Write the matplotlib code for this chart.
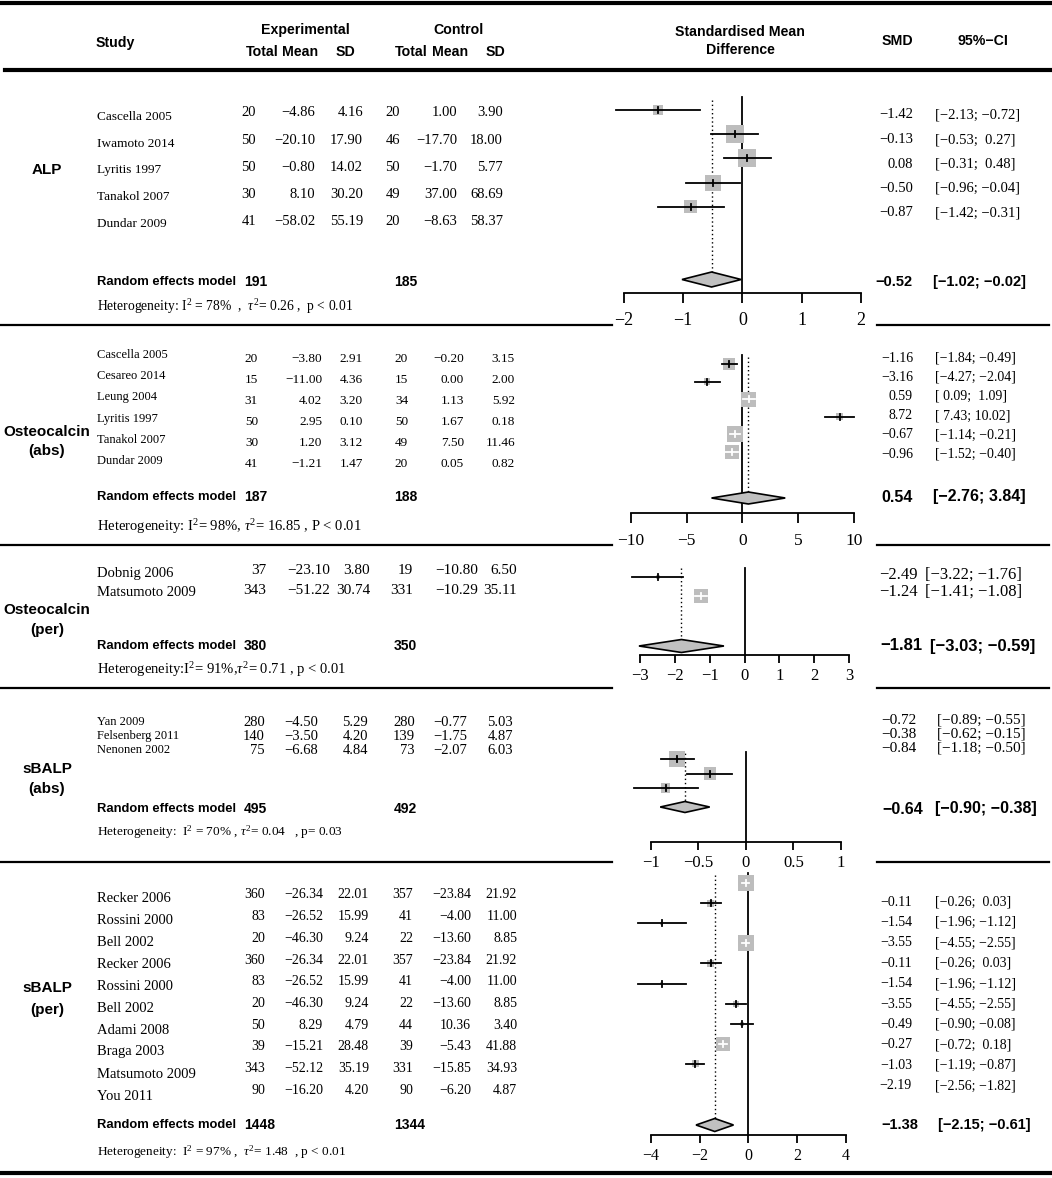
import numpy as np
import matplotlib
matplotlib.use("Agg")
import matplotlib.pyplot as plt
from matplotlib.patches import Rectangle, Polygon

plt.rcParams['mathtext.fontset'] = 'custom'
plt.rcParams['mathtext.rm'] = 'Liberation Serif'
plt.rcParams['mathtext.it'] = 'Liberation Serif:italic'

SERIF = 'Liberation Serif'
SANS = 'Liberation Sans'
W, H = 1052, 1178

# ---------------- data ----------------
alp_study = ["Cascella 2005", "Iwamoto 2014", "Lyritis 1997", "Tanakol 2007", "Dundar 2009"]
alp_e_n = [20, 50, 50, 30, 41]
alp_e_mean = [-4.86, -20.10, -0.80, 8.10, -58.02]
alp_e_sd = [4.16, 17.90, 14.02, 30.20, 55.19]
alp_c_n = [20, 46, 50, 49, 20]
alp_c_mean = [1.00, -17.70, -1.70, 37.00, -8.63]
alp_c_sd = [3.90, 18.00, 5.77, 68.69, 58.37]
alp_smd = [-1.42, -0.13, 0.08, -0.50, -0.87]
alp_lo = [-2.13, -0.53, -0.31, -0.96, -1.42]
alp_hi = [-0.72, 0.27, 0.48, -0.04, -0.31]
alp_w = [8.5, 27.6, 27.6, 21.8, 14.4]
alp_pool = [-0.52, -1.02, -0.02]
alp_tot = [191, 185]
alp_het = r"Heterogeneity: $\mathrm{I}^{2}$ = 78%  ,  $\tau^{2}$= 0.26 ,  p < 0.01"

oab_study = ["Cascella 2005", "Cesareo 2014", "Leung 2004", "Lyritis 1997", "Tanakol 2007", "Dundar 2009"]
oab_e_n = [20, 15, 31, 50, 30, 41]
oab_e_mean = [-3.80, -11.00, 4.02, 2.95, 1.20, -1.21]
oab_e_sd = [2.91, 4.36, 3.20, 0.10, 3.12, 1.47]
oab_c_n = [20, 15, 34, 50, 49, 20]
oab_c_mean = [-0.20, 0.00, 1.13, 1.67, 7.50, 0.05]
oab_c_sd = [3.15, 2.00, 5.92, 0.18, 11.46, 0.82]
oab_smd = [-1.16, -3.16, 0.59, 8.72, -0.67, -0.96]
oab_lo = [-1.84, -4.27, 0.09, 7.43, -1.14, -1.52]
oab_hi = [-0.49, -2.04, 1.09, 10.02, -0.21, -0.40]
oab_w = [16, 5, 25, 5, 28, 21]
oab_pool = [0.54, -2.76, 3.84]
oab_tot = [187, 188]
oab_het = r"Heterogeneity: $\mathrm{I}^{2}$= 98%, $\tau^{2}$= 16.85 , P < 0.01"

ope_study = ["Dobnig 2006", "Matsumoto 2009"]
ope_e_n = [37, 343]
ope_e_mean = [-23.10, -51.22]
ope_e_sd = [3.80, 30.74]
ope_c_n = [19, 331]
ope_c_mean = [-10.80, -10.29]
ope_c_sd = [6.50, 35.11]
ope_smd = [-2.49, -1.24]
ope_lo = [-3.22, -1.41]
ope_hi = [-1.76, -1.08]
ope_w = [8, 92]
ope_pool = [-1.81, -3.03, -0.59]
ope_tot = [380, 350]
ope_het = r"Heterogeneity:$\mathrm{I}^{2}$= 91%,$\tau^{2}$= 0.71 , p < 0.01"

sab_study = ["Yan 2009", "Felsenberg 2011", "Nenonen 2002"]
sab_e_n = [280, 140, 75]
sab_e_mean = [-4.50, -3.50, -6.68]
sab_e_sd = [5.29, 4.20, 4.84]
sab_c_n = [280, 139, 73]
sab_c_mean = [-0.77, -1.75, -2.07]
sab_c_sd = [5.03, 4.87, 6.03]
sab_smd = [-0.72, -0.38, -0.84]
sab_lo = [-0.89, -0.62, -1.18]
sab_hi = [-0.55, -0.15, -0.50]
sab_w = [53, 30, 17]
sab_pool = [-0.64, -0.90, -0.38]
sab_tot = [495, 492]
sab_het = r"Heterogeneity:  $\mathrm{I}^{2}$ = 70% , $\tau^{2}$= 0.04   , p= 0.03"

spe_study = ["Recker 2006", "Rossini 2000", "Bell 2002", "Recker 2006", "Rossini 2000", "Bell 2002",
             "Adami 2008", "Braga 2003", "Matsumoto 2009", "You 2011"]
spe_e_n = [360, 83, 20, 360, 83, 20, 50, 39, 343, 90]
spe_e_mean = [-26.34, -26.52, -46.30, -26.34, -26.52, -46.30, 8.29, -15.21, -52.12, -16.20]
spe_e_sd = [22.01, 15.99, 9.24, 22.01, 15.99, 9.24, 4.79, 28.48, 35.19, 4.20]
spe_c_n = [357, 41, 22, 357, 41, 22, 44, 39, 331, 90]
spe_c_mean = [-23.84, -4.00, -13.60, -23.84, -4.00, -13.60, 10.36, -5.43, -15.85, -6.20]
spe_c_sd = [21.92, 11.00, 8.85, 21.92, 11.00, 8.85, 3.40, 41.88, 34.93, 4.87]
spe_smd = [-0.11, -1.54, -3.55, -0.11, -1.54, -3.55, -0.49, -0.27, -1.03, -2.19]
spe_lo = [-0.26, -1.96, -4.55, -0.26, -1.96, -4.55, -0.90, -0.72, -1.19, -2.56]
spe_hi = [0.03, -1.12, -2.55, 0.03, -1.12, -2.55, -0.08, 0.18, -0.87, -1.82]
spe_w = [27.7, 5.3, 1.0, 27.7, 5.3, 1.0, 3.9, 1.7, 21.2, 5.3]
spe_pool = [-1.38, -2.15, -0.61]
spe_tot = [1448, 1344]
spe_het = r"Heterogeneity:  $\mathrm{I}^{2}$ = 97% ,  $\tau^{2}$= 1.48  , p < 0.01"

group_labels = [["ALP"], ["Osteocalcin", "(abs)"], ["Osteocalcin", "(per)"], ["sBALP", "(abs)"], ["sBALP", "(per)"]]

# ---------------- layout (pixels) ----------------
sections = [
    dict(study=alp_study, en=alp_e_n, em=alp_e_mean, es=alp_e_sd, cn=alp_c_n, cm=alp_c_mean, cs=alp_c_sd,
         smd=alp_smd, lo=alp_lo, hi=alp_hi, w=alp_w, pool=alp_pool, tot=alp_tot, het=alp_het,
         lab=group_labels[0], lab_y=[170],
         name_y=(117, 26.7), num_y=(113, 27.2), right_y=(115, 24.5), mark_y=(110, 24.2),
         cols=[256, 315, 363, 400, 457, 503], smd_x=913, ci_x=935, psmd_x=913, pci_x=933,
         pool_y=282, het_y=307, fs=(9.5, 10.5, 10.5, 10.5, 9.8, 13),
         ax=dict(top=97, axis=293, ticks=[-2, -1, 0, 1, 2], px=(624, 860.7), dia_y=279.5, dia_h=15,
                 dot_top=100, smax=18, tlen=10, tpad=9)),
    dict(study=oab_study, en=oab_e_n, em=oab_e_mean, es=oab_e_sd, cn=oab_c_n, cm=oab_c_mean, cs=oab_c_sd,
         smd=oab_smd, lo=oab_lo, hi=oab_hi, w=oab_w, pool=oab_pool, tot=oab_tot, het=oab_het,
         lab=group_labels[1], lab_y=[432, 451],
         name_y=(355, 21.2), num_y=(359, 21.0), right_y=(358, 19.2), mark_y=(364, 17.6),
         cols=[258, 322, 363, 408, 464, 515], smd_x=913, ci_x=935, psmd_x=913, pci_x=933,
         pool_y=497, het_y=527, fs=(9, 9.5, 10, 11.5, 10.5, 12.5),
         ax=dict(top=355, axis=513, ticks=[-10, -5, 0, 5, 10], px=(630.7, 854), dia_y=498, dia_h=12,
                 dot_top=357, smax=16, tlen=10, tpad=10)),
    dict(study=ope_study, en=ope_e_n, em=ope_e_mean, es=ope_e_sd, cn=ope_c_n, cm=ope_c_mean, cs=ope_c_sd,
         smd=ope_smd, lo=ope_lo, hi=ope_hi, w=ope_w, pool=ope_pool, tot=ope_tot, het=ope_het,
         lab=group_labels[2], lab_y=[610, 630],
         name_y=(574, 19), num_y=(571, 19), right_y=(575, 17), mark_y=(577, 19),
         cols=[266, 330, 370, 413, 478, 517], smd_x=918, ci_x=925, psmd_x=922, pci_x=930,
         pool_y=646, het_y=670, fs=(10.5, 11, 12, 12, 10.5, 12),
         ax=dict(top=568, axis=655, ticks=[-3, -2, -1, 0, 1, 2, 3], px=(640, 849), dia_y=646, dia_h=13,
                 dot_top=568, smax=14, tlen=8, tpad=5)),
    dict(study=sab_study, en=sab_e_n, em=sab_e_mean, es=sab_e_sd, cn=sab_c_n, cm=sab_c_mean, cs=sab_c_sd,
         smd=sab_smd, lo=sab_lo, hi=sab_hi, w=sab_w, pool=sab_pool, tot=sab_tot, het=sab_het,
         lab=group_labels[3], lab_y=[769, 789],
         name_y=(722, 14), num_y=(722, 14), right_y=(720, 14), mark_y=(759, 14.5),
         cols=[265, 318, 368, 415, 467, 513], smd_x=917, ci_x=937, psmd_x=923, pci_x=935,
         pool_y=809, het_y=832, fs=(9, 10.5, 11, 11.5, 9.5, 12),
         ax=dict(top=752, axis=842, ticks=[-1, -0.5, 0, 0.5, 1], px=(650.7, 841), dia_y=807, dia_h=11,
                 dot_top=749, smax=16, tlen=8, tpad=5)),
    dict(study=spe_study, en=spe_e_n, em=spe_e_mean, es=spe_e_sd, cn=spe_c_n, cm=spe_c_mean, cs=spe_c_sd,
         smd=spe_smd, lo=spe_lo, hi=spe_hi, w=spe_w, pool=spe_pool, tot=spe_tot, het=spe_het,
         lab=group_labels[4], lab_y=[988, 1010],
         name_y=(898, 22), num_y=(895, 21.7), right_y=(902, 20.4), mark_y=(883, 20.1),
         cols=[265, 323, 369, 413, 471, 517], smd_x=912, ci_x=935, psmd_x=918, pci_x=938,
         pool_y=1125, het_y=1152, fs=(10.5, 10, 10, 10.5, 9.5, 11.5),
         ax=dict(top=873, axis=1135, ticks=[-4, -2, 0, 2, 4], px=(651, 845.7), dia_y=1125, dia_h=13,
                 dot_top=875, smax=16, tlen=8, tpad=5)),
]
separators = [325, 545, 688, 862]


def num(v):
    return f"{v:.2f}".replace('-', '\u2212')


def ci(a, b):
    return ("[" + f"{a:5.2f}" + "; " + f"{b:5.2f}" + "]").replace('-', '\u2212')


def tick_lab(t):
    s = f"{t:g}"
    return s.replace('-', '\u2212')


fig = plt.figure(figsize=(W / 100, H / 100), dpi=100)
base = fig.add_axes([0, 0, 1, 1])
base.set_xlim(0, W)
base.set_ylim(H, 0)
base.axis('off')


def txt(x, y, s, size, ha='left', bold=False, serif=True):
    base.text(x, y, s, fontsize=size, ha=ha, va='center',
              family=SERIF if serif else SANS, fontweight='bold' if bold else 'normal')


# header
hs = 10.2
txt(115, 43, "Study", hs, 'center', True, False)
txt(305, 30, "Experimental", hs, 'center', True, False)
txt(458, 30, "Control", hs, 'center', True, False)
for x, s in [(262, "Total"), (300, "Mean"), (345, "SD"), (411, "Total"), (450, "Mean"), (495, "SD")]:
    txt(x, 52, s, hs, 'center', True, False)
txt(740, 32, "Standardised Mean", hs, 'center', True, False)
txt(740, 50, "Difference", hs, 'center', True, False)
txt(897, 41, "SMD", hs, 'center', True, False)
txt(983, 41, "95%\u2212CI", hs, 'center', True, False)

base.plot([0, W], [3, 3], color='k', lw=3)
base.plot([5, W], [70, 70], color='k', lw=3)
base.plot([0, 1050], [1173, 1173], color='k', lw=3)
for y in separators:
    base.plot([0, 612], [y, y], color='k', lw=1.6)
    base.plot([877, 1049], [y, y], color='k', lw=1.6)

for sec in sections:
    fs_name, fs_num, fs_right, fs_pool, fs_het, fs_tick = sec['fs']
    n = len(sec['study'])
    for i in range(n):
        yn = sec['name_y'][0] + i * sec['name_y'][1]
        yv = sec['num_y'][0] + i * sec['num_y'][1]
        yr = sec['right_y'][0] + i * sec['right_y'][1]
        txt(97, yn, sec['study'][i], fs_name)
        vals = [str(sec['en'][i]), num(sec['em'][i]), num(sec['es'][i]),
                str(sec['cn'][i]), num(sec['cm'][i]), num(sec['cs'][i])]
        for x, s in zip(sec['cols'], vals):
            txt(x, yv, s, fs_num, 'right')
        txt(sec['smd_x'], yr, num(sec['smd'][i]), fs_right, 'right')
        txt(sec['ci_x'], yr, ci(sec['lo'][i], sec['hi'][i]), fs_right)
    # group label
    for s, y in zip(sec['lab'], sec['lab_y']):
        txt(47, y, s, 11, 'center', True, False)
    # pooled row
    txt(97, sec['pool_y'], "Random effects model", 9.4, 'left', True, False)
    txt(244, sec['pool_y'], str(sec['tot'][0]), 10, 'left', True, False)
    txt(394, sec['pool_y'], str(sec['tot'][1]), 10, 'left', True, False)
    p = sec['pool']
    txt(sec['psmd_x'], sec['pool_y'], num(p[0]), fs_pool, 'right', True, False)
    txt(sec['pci_x'], sec['pool_y'], ci(p[1], p[2]).replace('  ', ' '), fs_pool, 'left', True, False)
    txt(97, sec['het_y'], sec['het'], fs_het)

    # forest panel
    a = sec['ax']
    ticks = a['ticks']
    px_lo, px_hi = a['px']
    ppu = (px_hi - px_lo) / (ticks[-1] - ticks[0])
    left_px, right_px = 600, 874
    ax = fig.add_axes([left_px / W, 1 - a['axis'] / H, (right_px - left_px) / W, (a['axis'] - a['top']) / H])
    ax.set_xlim(ticks[0] + (left_px - px_lo) / ppu, ticks[0] + (right_px - px_lo) / ppu)
    ax.set_ylim(a['axis'], a['top'])
    ax.patch.set_visible(False)
    for s in ['top', 'left', 'right']:
        ax.spines[s].set_visible(False)
    ax.spines['bottom'].set_bounds(ticks[0], ticks[-1])
    ax.spines['bottom'].set_linewidth(1.3)
    ax.set_xticks(ticks)
    ax.set_xticklabels([tick_lab(t) for t in ticks], family=SERIF)
    ax.set_yticks([])
    ax.tick_params(axis='x', direction='out', length=a['tlen'] * 0.72, width=1.3,
                   pad=a['tpad'] * 0.72, labelsize=fs_tick)

    ax.plot([0, 0], [a['top'], a['axis']], color='k', lw=1.3, clip_on=False, zorder=1)
    dia_top = a['dia_y'] - a['dia_h'] / 2
    ax.plot([p[0], p[0]], [a['dot_top'], dia_top], color='k', lw=1, ls=(0, (1, 2)), zorder=1)

    wmax = max(sec['w'])
    for i in range(n):
        y = sec['mark_y'][0] + i * sec['mark_y'][1]
        est, lo, hi = sec['smd'][i], sec['lo'][i], sec['hi'][i]
        side = a['smax'] * np.sqrt(sec['w'][i] / wmax)
        half = side / 2 / ppu
        ax.add_patch(Rectangle((est - half, y - side / 2), 2 * half, side, fc='#bdbdbd', ec='none',
                               zorder=2, clip_on=False))
        col = 'white' if (lo >= est - half and hi <= est + half) else 'black'
        ax.plot([lo, hi], [y, y], color=col, lw=1.3, zorder=3, clip_on=False)
        ax.plot([est, est], [y - 3, y + 3], color=col, lw=1.3, zorder=3, clip_on=False)

    ax.add_patch(Polygon([(p[1], a['dia_y']), (p[0], dia_top), (p[2], a['dia_y']),
                          (p[0], a['dia_y'] + a['dia_h'] / 2)], closed=True,
                         fc='#c0c0c0', ec='k', lw=1.2, zorder=3, clip_on=False))

fig.savefig("out.png", dpi=100)
